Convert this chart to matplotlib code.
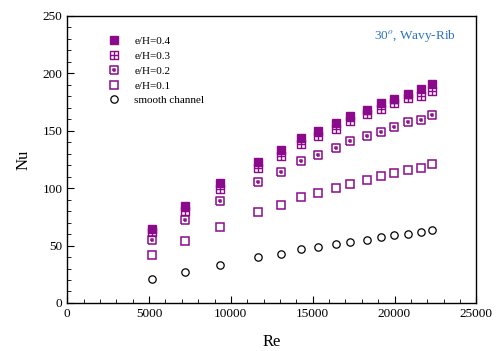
import numpy as np
import matplotlib
matplotlib.use('Agg')
import matplotlib.pyplot as plt
from matplotlib.path import Path
from matplotlib.ticker import MultipleLocator

plt.rcParams['font.family'] = ['Liberation Serif', 'DejaVu Serif']
plt.rcParams['mathtext.fontset'] = 'stix'

# dati
re = [5200, 7200, 9350, 11650, 13050, 14300, 15300, 16400, 17300, 18300,
      19150, 19950, 20800, 21600, 22300]
nu_04 = [64.1, 84.3, 104.1, 122.6, 132.8, 143.2, 149.8, 156.3, 162.6, 167.8,
         173.6, 177.4, 181.7, 185.8, 190.7]
nu_03 = [61.4, 80.3, 99.1, 117.7, 128.1, 138.5, 144.9, 151.3, 158.0, 164.1,
         169.0, 173.9, 178.3, 180.3, 184.6]
nu_02 = [54.8, 71.9, 88.7, 105.0, 113.6, 123.5, 128.7, 135.1, 140.6, 145.2,
         149.0, 153.3, 157.1, 158.9, 163.5]
nu_01 = [41.4, 53.9, 66.4, 78.8, 84.9, 91.9, 95.4, 99.7, 103.5, 107.0,
         110.4, 113.0, 115.9, 117.7, 120.9]
nu_smooth = [20.9, 27.2, 33.3, 39.7, 42.9, 46.7, 48.7, 51.0, 53.0, 55.1,
             57.1, 59.1, 60.3, 61.5, 63.5]
labels = ['e/H=0.4', 'e/H=0.3', 'e/H=0.2', 'e/H=0.1', 'smooth channel']

# marker personalizzati: quadrato con croce e quadrato con punto
sq = [(-1, -1), (1, -1), (1, 1), (-1, 1), (-1, -1)]
vb = [(0, -1), (0, 1), (-1, 0), (1, 0)]
boxplus = Path(sq + vb, [Path.MOVETO] + [Path.LINETO] * 4
               + [Path.MOVETO, Path.LINETO, Path.MOVETO, Path.LINETO])
d = 0.22
dot = [(-d, -d), (d, -d), (d, d), (-d, d), (-d, -d)]
boxdot = Path(sq + dot, [Path.MOVETO] + [Path.LINETO] * 4
              + [Path.MOVETO] + [Path.LINETO] * 4)

purple = '#8b0a8b'
ms = 5.3

fig = plt.figure(figsize=(5, 3.51), dpi=100)
ax = fig.add_axes([0.1346, 0.1368, 0.818, 0.8185])

ax.plot(re, nu_04, 's', ms=ms, color=purple, mec=purple, mew=1, label=labels[0])
ax.plot(re, nu_03, marker=boxplus, ls='none', ms=ms, mfc='none', mec=purple, mew=1, label=labels[1])
ax.plot(re, nu_02, marker=boxdot, ls='none', ms=ms, mfc='none', mec=purple, mew=1.1, label=labels[2])
ax.plot(re, nu_01, 's', ms=ms, mfc='none', mec=purple, mew=1.1, label=labels[3])
ax.plot(re, nu_smooth, 'o', ms=ms, mfc='none', mec='black', mew=0.9, label=labels[4])

ax.set_xlim(0, 25000)
ax.set_ylim(0, 250)
ax.xaxis.set_major_locator(MultipleLocator(5000))
ax.xaxis.set_minor_locator(MultipleLocator(1000))
ax.yaxis.set_major_locator(MultipleLocator(50))
ax.yaxis.set_minor_locator(MultipleLocator(10))
ax.tick_params(which='both', direction='in', labelsize=9.5, top=False, right=False)
ax.tick_params(which='major', length=5)
ax.tick_params(which='minor', length=3)
for s in ax.spines.values():
    s.set_linewidth(1)

ax.set_xlabel('Re', fontsize=12, labelpad=10)
ax.set_ylabel('Nu', fontsize=12, labelpad=8)

ax.legend(loc='upper left', frameon=False, fontsize=8, handlelength=1.2,
          handletextpad=1.2, labelspacing=0.45, borderaxespad=0.3,
          bbox_to_anchor=(0.08, 0.955))

ax.text(0.95, 0.93, '30$^{o}$, Wavy-Rib', transform=ax.transAxes, ha='right',
        va='center', color='#2a72c8', fontsize=9.5)

fig.savefig('out.png', dpi=100)
